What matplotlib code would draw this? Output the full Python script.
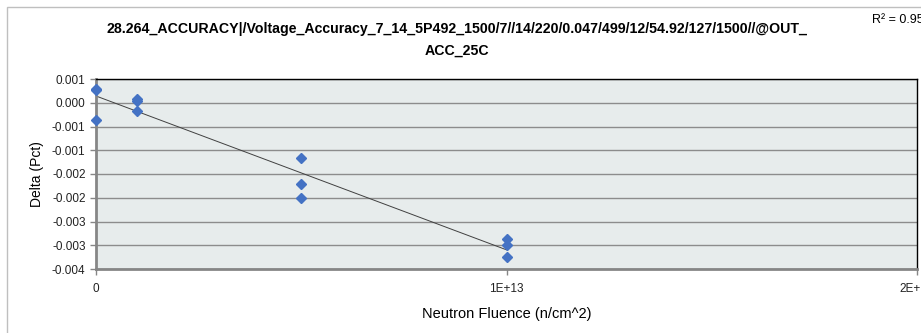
import numpy as np
import matplotlib
matplotlib.use("Agg")
import matplotlib.pyplot as plt
from matplotlib.patches import Rectangle

# ── Data ──────────────────────────────────────────────────────────────────────
fluence = [0, 0, 0,
           1e12, 1e12, 1e12,
           5e12, 5e12, 5e12,
           1e13, 1e13, 1e13]
delta = [0.00029, 0.00027, -0.00036,
         0.00008, 0.00004, -0.00017,
         -0.00117, -0.00170, -0.00200,
         -0.00287, -0.00300, -0.00325]

y_ticks = [0.0005, 0.0, -0.0005, -0.001, -0.0015, -0.002, -0.0025, -0.003, -0.0035]
y_tick_labels = ["0.001", "0.000", "-0.001", "-0.001", "-0.002",
                 "-0.002", "-0.003", "-0.003", "-0.004"]
x_ticks = [0, 1e13, 2e13]
x_tick_labels = ["0", "1E+13", "2E+13"]

title = ("28.264_ACCURACY|/Voltage_Accuracy_7_14_5P492_1500/7//14/220/0.047/499/12/"
         "54.92/127/1500//@OUT_\nACC_25C")

# ── Linear trend ──────────────────────────────────────────────────────────────
x = np.array(fluence)
y = np.array(delta)
slope, intercept = np.polyfit(x, y, 1)
pred = slope * x + intercept
r2 = 1 - np.sum((y - pred) ** 2) / np.sum((y - y.mean()) ** 2)

plt.rcParams["font.family"] = ["Liberation Sans", "DejaVu Sans"]

W, H = 921, 333
fig = plt.figure(figsize=(W / 100, H / 100), dpi=100)
fig.patch.set_facecolor("white")

# chart-area border (cropped on right/bottom)
fig.patches.append(Rectangle((7 / W, -0.1), 1.2, 1 - 7 / H + 0.1,
                             transform=fig.transFigure, fill=False,
                             edgecolor="#BFBFBF", lw=1.0))

ax = fig.add_axes([96 / W, 1 - 269 / H, (917 - 96) / W, (269 - 79) / H])
ax.set_facecolor("#E7ECEC")

ax.set_xlim(0, 2e13)
ax.set_ylim(-0.0035, 0.0005)
ax.set_yticks(y_ticks)
ax.set_yticklabels(y_tick_labels)
ax.set_xticks(x_ticks)
ax.set_xticklabels(x_tick_labels)

ax.grid(axis="y", color="#8C8C8C", lw=1.0)
ax.set_axisbelow(True)

# trend line then points
xl = np.array([x.min(), x.max()])
ax.plot(xl, slope * xl + intercept, color="#404040", lw=0.7, zorder=2)
ax.plot(x, y, linestyle="none", marker="D", markersize=5,
        color="#4472C4", zorder=3, clip_on=False)

for side in ("top", "right"):
    ax.spines[side].set_color("black")
    ax.spines[side].set_linewidth(1.0)
for side in ("left", "bottom"):
    ax.spines[side].set_color("#868686")
    ax.spines[side].set_linewidth(2.0)

ax.tick_params(axis="both", labelsize=8.5, colors="#868686", labelcolor="#222222",
               length=4, width=1)
ax.tick_params(axis="x", pad=6)

ax.set_ylabel("Delta (Pct)", fontsize=10, labelpad=6)
ax.set_xlabel("Neutron Fluence (n/cm^2)", fontsize=10.5, labelpad=9)

fig.text(457 / W, 1 - 40 / H, title, ha="center", va="center",
         fontsize=10.2, fontweight="bold", linespacing=1.7)
fig.text(872 / W, 1 - 20 / H, f"R² = {r2:.4f}", ha="left", va="center",
         fontsize=9)

fig.savefig("out.png", dpi=100)
